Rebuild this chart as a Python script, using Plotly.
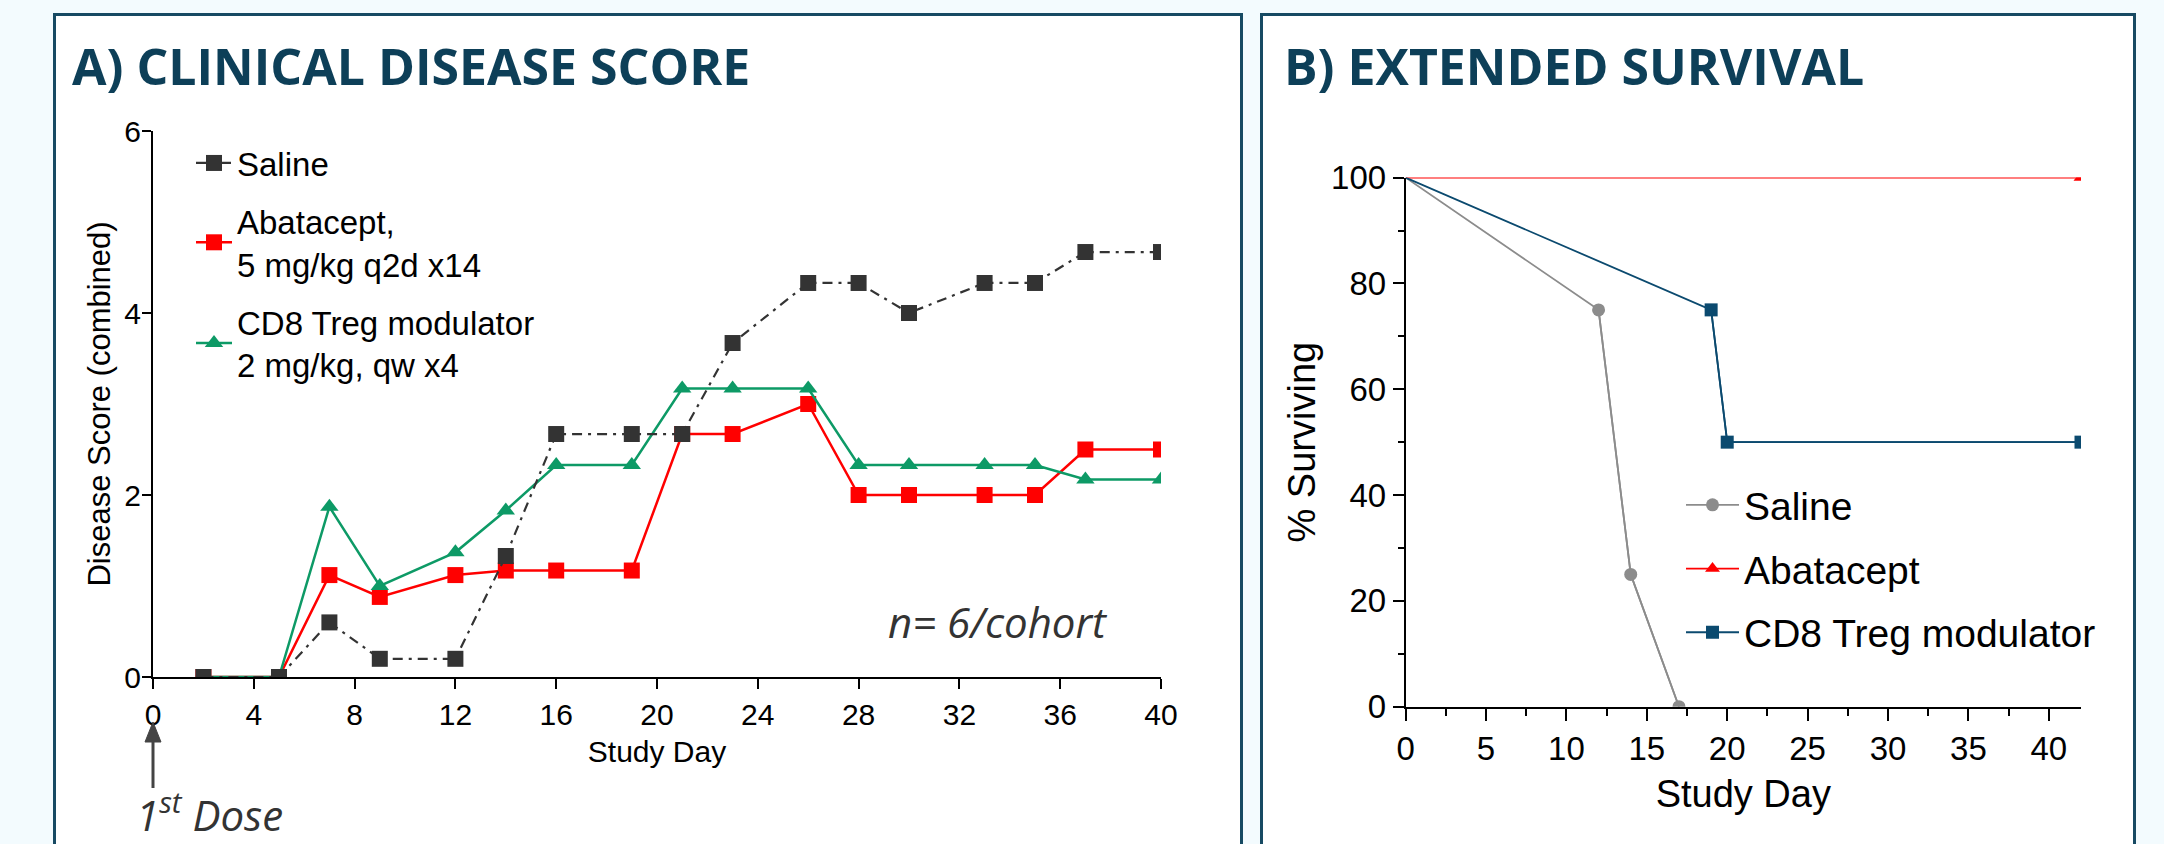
import plotly.graph_objects as go

W, H = 2164, 844

# ---------------- Data: A) Clinical disease score ----------------
days_a = [2, 5, 7, 9, 12, 14, 16, 19, 21, 23, 26, 28, 30, 33, 35, 37, 40]
saline_score = [0, 0, 0.6, 0.2, 0.2, 1.33, 2.67, 2.67, 2.67, 3.67, 4.33, 4.33, 4.0, 4.33, 4.33, 4.67, 4.67]
abatacept_score = [0, 0, 1.12, 0.88, 1.12, 1.17, 1.17, 1.17, 2.67, 2.67, 3.0, 2.0, 2.0, 2.0, 2.0, 2.5, 2.5]
cd8_score = [0, 0, 1.87, 1.0, 1.37, 1.83, 2.33, 2.33, 3.17, 3.17, 3.17, 2.33, 2.33, 2.33, 2.33, 2.17, 2.17]
names_a = ["Saline", "Abatacept,<br>5 mg/kg q2d x14", "CD8 Treg modulator<br>2 mg/kg, qw x4"]

# ---------------- Data: B) Extended survival ----------------
saline_days = [0, 12, 14, 17]
saline_surv = [100, 75, 25, 0]
abatacept_days = [0, 42]
abatacept_surv = [100, 100]
cd8_days = [0, 19, 20, 42]
cd8_surv = [100, 75, 50, 50]
names_b = ["Saline", "Abatacept", "CD8 Treg modulator"]

# ---------------- Styling ----------------
C_SAL = "#333333"
C_RED = "#ff0000"
C_GRN = "#0d9a66"
C_GRAY = "#8c8c8c"
C_BLUE = "#0b4a6f"
C_TITLE = "#0d3f58"
C_BORDER = "#174a63"
BG = "#f3fbfe"
TICKFONT = "Liberation Sans, Arial, sans-serif"


def px_x(p):
    return p / W


def px_y(p):
    return 1 - p / H


fig = go.Figure()

# ---- Panel A traces (drawn red, green, saline so saline sits on top)
fig.add_trace(go.Scatter(
    x=days_a, y=abatacept_score, mode="lines+markers", name=names_a[1],
    line=dict(color=C_RED, width=2.5),
    marker=dict(symbol="square", size=16, color=C_RED),
    legend="legend", legendgroup="a2", legendrank=2,
    xaxis="x", yaxis="y"))
fig.add_trace(go.Scatter(
    x=days_a, y=cd8_score, mode="lines+markers", name=names_a[2],
    line=dict(color=C_GRN, width=2.5),
    marker=dict(symbol="triangle-up", size=16, color=C_GRN),
    legend="legend", legendgroup="a3", legendrank=3,
    xaxis="x", yaxis="y"))
fig.add_trace(go.Scatter(
    x=days_a, y=saline_score, mode="lines+markers", name=names_a[0],
    line=dict(color=C_SAL, width=2.2, dash="10px,6px,3px,6px"),
    marker=dict(symbol="square", size=16, color=C_SAL),
    legend="legend", legendgroup="a1", legendrank=1,
    xaxis="x", yaxis="y"))

# ---- Panel B traces: full curve as line, events as line+markers
for d, s, c, sym, ms, nm, rk in [
    (saline_days, saline_surv, C_GRAY, "circle", 13, names_b[0], 1),
    (abatacept_days, abatacept_surv, C_RED, "triangle-up", 13, names_b[1], 2),
    (cd8_days, cd8_surv, C_BLUE, "square", 13, names_b[2], 3),
]:
    fig.add_trace(go.Scatter(
        x=d, y=s, mode="lines", line=dict(color=c, width=1.8),
        showlegend=False, hoverinfo="skip", xaxis="x2", yaxis="y2"))
    fig.add_trace(go.Scatter(
        x=d[1:], y=s[1:], mode="lines+markers", name=nm,
        line=dict(color=c, width=1.8),
        marker=dict(symbol=sym, size=ms, color=c),
        legend="legend2", legendgroup="b%d" % rk, legendrank=rk,
        xaxis="x2", yaxis="y2"))

axis_common = dict(showgrid=False, zeroline=False, showline=True, linecolor="black",
                   ticks="outside", tickcolor="black", mirror=False, automargin=False)

# arrow marking the first dose (paper units)
ax_x = px_x(153)
arrow_tip = px_y(722)
arrow_tail = px_y(788)
head_h = 20 / H
head_hw = 8 / W

fig.update_layout(
    width=W, height=H,
    margin=dict(l=0, r=0, t=0, b=0, autoexpand=False),
    paper_bgcolor=BG,
    plot_bgcolor="rgba(0,0,0,0)",
    showlegend=True,
    xaxis=dict(axis_common, domain=[px_x(153), px_x(1161)], range=[0, 40], dtick=4,
               linewidth=2, tickwidth=2, ticklen=10,
               tickfont=dict(family=TICKFONT, size=30, color="black"),
               title=dict(text="Study Day", font=dict(family=TICKFONT, size=30, color="black"),
                          standoff=11),
               anchor="y"),
    yaxis=dict(axis_common, domain=[px_y(677), px_y(131)], range=[0, 6], dtick=2,
               linewidth=2, tickwidth=2, ticklen=9, ticklabelstandoff=-5,
               tickfont=dict(family=TICKFONT, size=30, color="black"),
               title=dict(text="Disease Score (combined)",
                          font=dict(family=TICKFONT, size=31, color="black"), standoff=4),
               anchor="x"),
    xaxis2=dict(axis_common, domain=[px_x(1405.6), px_x(2081)], range=[0, 42], dtick=5,
                linewidth=1.8, tickwidth=1.8, ticklen=12,
                minor=dict(dtick=2.5, ticklen=7, tickwidth=1.5, tickcolor="black", ticks="outside"),
                tickfont=dict(family=TICKFONT, size=33, color="black"),
                title=dict(text="Study Day", font=dict(family=TICKFONT, size=38, color="black"),
                           standoff=14),
                anchor="y2"),
    yaxis2=dict(axis_common, domain=[px_y(706.7), px_y(177.6)], range=[0, 100], dtick=20,
                linewidth=1.8, tickwidth=1.8, ticklen=11,
                minor=dict(dtick=10, ticklen=6, tickwidth=1.5, tickcolor="black", ticks="outside"),
                tickfont=dict(family=TICKFONT, size=33, color="black"),
                title=dict(text="% Surviving", font=dict(family=TICKFONT, size=38, color="black"),
                           standoff=4),
                anchor="x2"),
    legend=dict(x=px_x(191), y=px_y(135), xanchor="left", yanchor="top",
                bgcolor="rgba(0,0,0,0)", borderwidth=0,
                font=dict(family=TICKFONT, size=33, color="black"),
                traceorder="grouped", tracegroupgap=12, itemwidth=36),
    legend2=dict(x=px_x(1681), y=px_y(473), xanchor="left", yanchor="top",
                 bgcolor="rgba(0,0,0,0)", borderwidth=0,
                 font=dict(family=TICKFONT, size=39, color="black"),
                 traceorder="grouped", tracegroupgap=10, itemwidth=53),
    shapes=[
        dict(type="rect", xref="paper", yref="paper", layer="below",
             x0=px_x(54.5), x1=px_x(1241.5), y0=-0.05, y1=px_y(14.5),
             line=dict(color=C_BORDER, width=3), fillcolor="white"),
        dict(type="rect", xref="paper", yref="paper", layer="below",
             x0=px_x(1261.5), x1=px_x(2134.5), y0=-0.05, y1=px_y(14.5),
             line=dict(color=C_BORDER, width=3), fillcolor="white"),
        dict(type="line", xref="paper", yref="paper", x0=ax_x, x1=ax_x,
             y0=arrow_tail, y1=arrow_tip - head_h + 0.002,
             line=dict(color="#444444", width=3)),
        dict(type="path", xref="paper", yref="paper",
             path="M %f,%f L %f,%f L %f,%f Z" % (
                 ax_x - head_hw, arrow_tip - head_h, ax_x, arrow_tip,
                 ax_x + head_hw, arrow_tip - head_h),
             fillcolor="#444444", line=dict(color="#444444", width=1)),
    ],
    annotations=[
        dict(text="<b>A) CLINICAL DISEASE SCORE</b>", xref="paper", yref="paper",
             x=px_x(70), y=px_y(66), xanchor="left", yanchor="middle", showarrow=False,
             font=dict(family="Open Sans, sans-serif", size=50, color=C_TITLE)),
        dict(text="<b>B) EXTENDED SURVIVAL</b>", xref="paper", yref="paper",
             x=px_x(1282), y=px_y(66), xanchor="left", yanchor="middle", showarrow=False,
             font=dict(family="Open Sans, sans-serif", size=50, color=C_TITLE)),
        dict(text="<i>n= 6/cohort</i>", xref="paper", yref="paper",
             x=px_x(998), y=px_y(621), xanchor="center", yanchor="middle", showarrow=False,
             font=dict(family="Open Sans, sans-serif", size=42, color="#333333")),
        dict(text="<i>1<sup>st</sup> Dose</i>", xref="paper", yref="paper",
             x=px_x(210), y=px_y(812), xanchor="center", yanchor="middle", showarrow=False,
             font=dict(family="Open Sans, sans-serif", size=42, color="#333333")),
    ],
)

fig.write_html(
    "out.html",
    config={"displayModeBar": False},
    post_script="document.body.style.margin='0px';"
                "document.body.style.background='%s';" % BG,
)
